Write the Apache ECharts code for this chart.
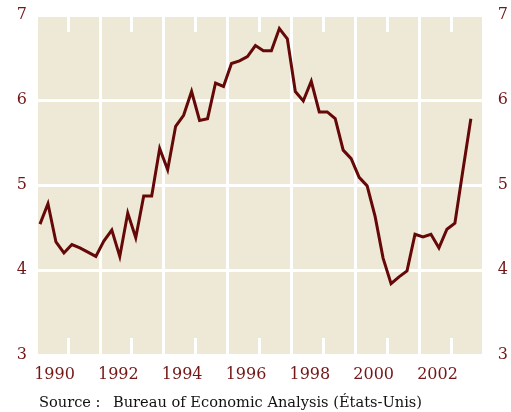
<!DOCTYPE html>
<html>
<head>
<meta charset="utf-8">
<script src="https://cdn.jsdelivr.net/npm/echarts@6/dist/echarts.min.js"></script>
<style>
html,body{margin:0;padding:0;background:#fff;}
#chart{width:511px;height:412px;}
</style>
</head>
<body>
<div id="chart"></div>
<script>
// Quarterly periods, 1989 Q1 to 2002 Q3
const periods = [
  "1989T1","1989T2","1989T3","1989T4",
  "1990T1","1990T2","1990T3","1990T4",
  "1991T1","1991T2","1991T3","1991T4",
  "1992T1","1992T2","1992T3","1992T4",
  "1993T1","1993T2","1993T3","1993T4",
  "1994T1","1994T2","1994T3","1994T4",
  "1995T1","1995T2","1995T3","1995T4",
  "1996T1","1996T2","1996T3","1996T4",
  "1997T1","1997T2","1997T3","1997T4",
  "1998T1","1998T2","1998T3","1998T4",
  "1999T1","1999T2","1999T3","1999T4",
  "2000T1","2000T2","2000T3","2000T4",
  "2001T1","2001T2","2001T3","2001T4",
  "2002T1","2002T2","2002T3"
];
const values = [
  4.54, 4.78, 4.33, 4.20,
  4.30, 4.26, 4.21, 4.16,
  4.34, 4.47, 4.16, 4.67,
  4.38, 4.87, 4.87, 5.43,
  5.18, 5.69, 5.82, 6.10,
  5.76, 5.78, 6.20, 6.16,
  6.43, 6.46, 6.51, 6.64,
  6.58, 6.58, 6.84, 6.72,
  6.10, 5.99, 6.22, 5.86,
  5.86, 5.78, 5.41, 5.31,
  5.09, 4.99, 4.63, 4.14,
  3.84, 3.92, 3.99, 4.42,
  4.39, 4.42, 4.26, 4.48,
  4.55, 5.17, 5.78
];
const yearLabels = ["1990","1992","1994","1996","1998","2000","2002"];
const yTicks = [3, 4, 5, 6, 7];
const sourceLabel = "Source :";
const sourceText = "Bureau of Economic Analysis (États-Unis)";

const labelColor = "#731616";
const lineColor = "#650808";
const font = "DejaVu Serif";

function periodToX(p) {
  const y = parseInt(p.slice(0, 4), 10);
  const q = parseInt(p.slice(5), 10);
  return y + (q - 0.5) / 4;
}
const seriesData = periods.map((p, i) => [periodToX(p), values[i]]);
const labelPositions = yearLabels.map(l => parseInt(l, 10) - 0.42);
const tickPositions = yearLabels.map(l => parseInt(l, 10));

const chart = echarts.init(document.getElementById('chart'));
chart.setOption({
  animation: false,
  backgroundColor: '#ffffff',
  grid: {
    left: 36, right: 23, top: 15, bottom: 57,
    show: true, backgroundColor: '#EEE8D6', borderWidth: 0
  },
  xAxis: [
    {
      type: 'value', min: 1989, max: 2003, interval: 2,
      position: 'bottom',
      axisLine: {show: false}, axisTick: {show: false}, axisLabel: {show: false},
      splitLine: {show: true, lineStyle: {color: '#ffffff', width: 3}}
    },
    {
      type: 'value', min: 1989, max: 2003,
      position: 'bottom',
      axisLine: {show: false},
      axisTick: {show: true, inside: true, length: 17, customValues: tickPositions,
                 lineStyle: {color: '#ffffff', width: 3}},
      axisLabel: {show: true, customValues: labelPositions, margin: 12,
                  color: labelColor, fontFamily: font, fontSize: 16,
                  formatter: function (v) {
                    const idx = labelPositions.findIndex(p => Math.abs(p - v) < 1e-6);
                    return idx >= 0 ? yearLabels[idx] : '';
                  }},
      splitLine: {show: false}
    },
    {
      type: 'value', min: 1989, max: 2003,
      position: 'top',
      axisLine: {show: false},
      axisTick: {show: true, inside: true, length: 17, customValues: tickPositions,
                 lineStyle: {color: '#ffffff', width: 3}},
      axisLabel: {show: false},
      splitLine: {show: false}
    }
  ],
  yAxis: [
    {
      type: 'value', min: 3, max: 7, interval: 1, position: 'left',
      axisLine: {show: false}, axisTick: {show: false},
      axisLabel: {color: labelColor, fontFamily: font, fontSize: 16, margin: 9},
      splitLine: {show: true, lineStyle: {color: '#ffffff', width: 3}}
    },
    {
      type: 'value', min: 3, max: 7, interval: 1, position: 'right',
      axisLine: {show: false}, axisTick: {show: false},
      axisLabel: {color: labelColor, fontFamily: font, fontSize: 16, margin: 15},
      splitLine: {show: false}
    }
  ],
  series: [{
    type: 'line',
    xAxisIndex: 0, yAxisIndex: 0,
    data: seriesData,
    showSymbol: false,
    lineStyle: {color: lineColor, width: 3, join: 'miter'},
    z: 5
  }],
  graphic: [
    {type: 'text', left: 39, top: 396,
     style: {text: sourceLabel, font: '14.6px "DejaVu Serif"', fill: '#111111'}},
    {type: 'text', left: 113, top: 396,
     style: {text: sourceText, font: '14.6px "DejaVu Serif"', fill: '#111111'}}
  ]
});
</script>
</body>
</html>
